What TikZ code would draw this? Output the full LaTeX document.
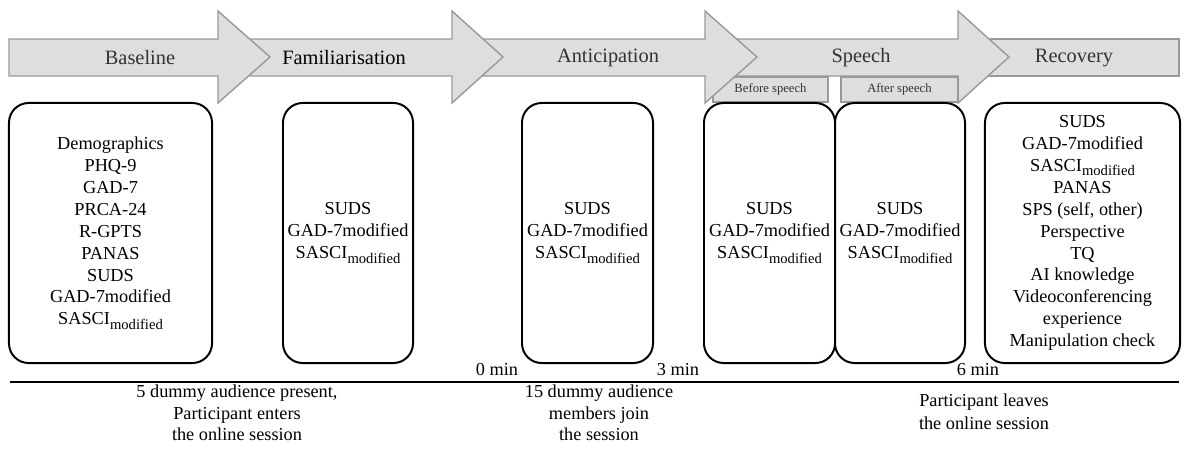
\documentclass[tikz,border=0pt]{standalone}
\usepackage{fontspec}
\setmainfont{Liberation Serif}
\newcommand{\modsub}{\raisebox{-3pt}{\fontsize{10.4}{12}\selectfont modified}}

\begin{document}
\begin{tikzpicture}[x=0.025cm,y=-0.025cm,
  phase/.style={fill=black!13,draw=black!40,line width=1pt},
  phaselabel/.style={font=\fontsize{14.5}{17}\selectfont,text=black!80},
  subphase/.style={phase,font=\fontsize{9}{11}\selectfont,text=black!80,minimum height=0.625cm,inner sep=0pt},
  stagebox/.style={draw,line width=1.4pt,rounded corners=14pt,align=center,minimum height=6.5cm,inner sep=0pt,font=\fontsize{13}{15.6}\selectfont},
  timelabel/.style={font=\fontsize{13}{15.6}\selectfont},
  note/.style={align=center,font=\fontsize{13}{15.4}\selectfont}]
\useasboundingbox (0,0) rectangle (1186,450);
% ---------- phase arrows (right to left, heads on top) ----------
\filldraw[phase] (985,39) rectangle (1179,76);
\filldraw[phase] (730,39) -- (958,39) -- (958,11) -- (1009,57) -- (958,103) -- (958,76) -- (730,76) -- cycle;
% speech sub-phases
\node[subphase,minimum width=2.875cm] (before) at (770.5,89.5) {Before speech};
\node[subphase,minimum width=2.925cm] (after) at (899.5,89.5) {After speech};
\foreach \xl/\xh/\xt in {480/705/757, 240/452/503, 9/218/270}
  \filldraw[phase] (\xl,39) -- (\xh,39) -- (\xh,11) -- (\xt,57) -- (\xh,103) -- (\xh,76) -- (\xl,76) -- cycle;
\node[phaselabel] (lbase) at (140,58) {Baseline};
\node[phaselabel,text=black] (lfam) at (344,58) {Familiarisation};
\node[phaselabel] (lanti) at (608,58) {Anticipation};
\node[phaselabel] (lspeech) at (861,58) {Speech};
\node[phaselabel] (lrec) at (1074,58) {Recovery};
% ---------- measurement boxes ----------
\node[stagebox,minimum width=5.075cm] (base) at (110.5,233)
  {Demographics\\PHQ-9\\GAD-7\\PRCA-24\\R-GPTS\\PANAS\\SUDS\\GAD-7modified\\SASCI\modsub};
\node[stagebox,minimum width=3.25cm] (fam) at (348,233)
  {SUDS\\GAD-7modified\\SASCI\modsub};
\node[stagebox,minimum width=3.275cm] (anti) at (587.5,233)
  {SUDS\\GAD-7modified\\SASCI\modsub};
\node[stagebox,minimum width=3.275cm] (pre) at (769.5,233)
  {SUDS\\GAD-7modified\\SASCI\modsub};
\node[stagebox,minimum width=3.25cm] (post) at (900,233)
  {SUDS\\GAD-7modified\\SASCI\modsub};
\node[stagebox,minimum width=4.875cm] (rec) at (1082.5,233)
  {SUDS\\GAD-7modified\\SASCI\modsub\\PANAS\\SPS (self, other)\\Perspective\\TQ\\AI knowledge\\Videoconferencing\\experience\\Manipulation check};
% ---------- timeline ----------
\coordinate (tstart) at (10,382);
\coordinate (tend) at (1179,382);
\draw[line width=1.4pt] (tstart) -- (tend);
\node[timelabel] (t0) at (497,370) {0 min};
\node[timelabel] (t3) at (678,370) {3 min};
\node[timelabel] (t6) at (978,370) {6 min};
\node[note] (n1) at (237,413) {5 dummy audience present,\\Participant enters\\the online session};
\node[note] (n2) at (599,413) {15 dummy audience\\members join\\the session};
\node[note,font=\fontsize{13}{16.4}\selectfont] (n3) at (984,411.5) {Participant leaves\\the online session};
\end{tikzpicture}
\end{document}
